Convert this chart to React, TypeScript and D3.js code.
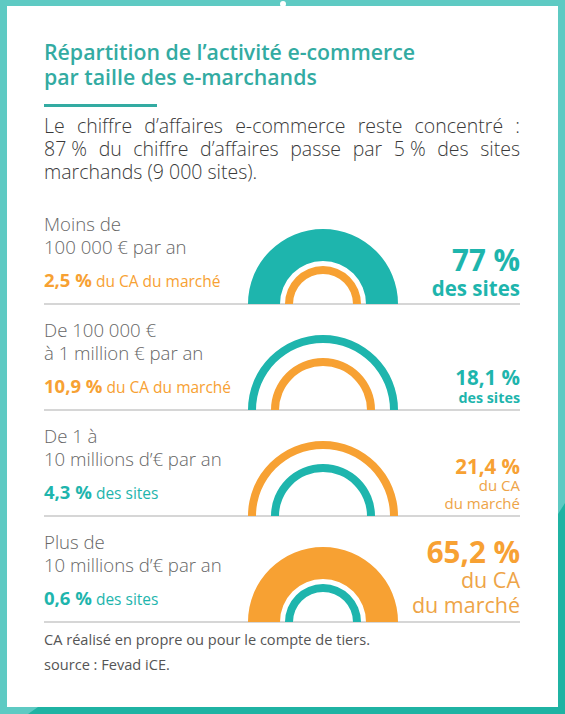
import * as d3 from "d3";
import { useMemo } from "react";

const W = 565;
const H = 714;

// data
const bandLines = [
  ["Moins de", "100 000 € par an"],
  ["De 100 000 €", "à 1 million € par an"],
  ["De 1 à", "10 millions d’€ par an"],
  ["Plus de", "10 millions d’€ par an"],
];
const sitesShare = [77, 18.1, 4.3, 0.6];
const revenueShare = [2.5, 10.9, 21.4, 65.2];

const titleLines = ["Répartition de l’activité e-commerce", "par taille des e-marchands"];
const introLines = [
  "Le chiffre d’affaires e-commerce reste concentré :",
  "87\u00A0% du chiffre d’affaires passe par 5\u00A0% des sites",
  "marchands (9 000 sites).",
];
const footLines = ["CA réalisé en propre ou pour le compte de tiers.", "source : Fevad iCE."];

const teal = "#1eb5ad";
const orange = "#f7a133";
const orangeText = "#eea447";
const titleTeal = "#33aba2";
const frameLight = "#5ecac3";
const frameDark = "#1fb3a3";
const FONT = "'Open Sans', 'Noto Sans', sans-serif";

const fr = (v: number) => String(v).replace(".", ",") + " %";

// words of each paragraph line spread from x0 to x1 (last line left aligned)
function useJustify(lines: string[], font: string, x0: number, x1: number) {
  return useMemo(() => {
    const ctx = document.createElement("canvas").getContext("2d")!;
    ctx.font = font;
    return lines.map((line, i) => {
      const words = line.split(" ");
      const widths = words.map((w) => ctx.measureText(w).width);
      const gap =
        i === lines.length - 1
          ? ctx.measureText(" ").width
          : (x1 - x0 - d3.sum(widths)) / (words.length - 1);
      let x = x0;
      return words.map((w, j) => {
        const p = { w, x };
        x += widths[j] + gap;
        return p;
      });
    });
  }, [lines, font, x0, x1]);
}

export default function App() {
  const left = 44;
  const right = 520;
  const cx = 323;

  const y = d3.scaleBand<number>().domain(d3.range(bandLines.length)).range([198, 622]);
  // thick band when the share is a majority, thin ring otherwise
  const thickness = d3.scaleThreshold<number, number>().domain([50]).range([8, 32]);
  const innerOuter = d3.scaleThreshold<number, number>().domain([50]).range([52, 38]);
  const bigSize = d3.scaleThreshold<number, number>().domain([50]).range([20.5, 29.5]);
  const R = 75;
  const arc = d3.arc<any>().startAngle(-Math.PI / 2).endAngle(Math.PI / 2);

  const intro = useJustify(introLines, `300 19.5px ${FONT}`, left, right);

  return (
    <svg
      width={W}
      height={H}
      style={{ position: "absolute", left: 0, top: 0, display: "block" }}
      fontFamily={FONT}
    >
      {/* frame */}
      <rect width={W} height={H} fill={frameLight} />
      <polygon points="28,714 48,700 553,700 553,522 565,503 565,714" fill={frameDark} />
      <rect x={7} y={6} width={551} height={701} fill="#fff" />
      <circle cx={283} cy={4} r={3} fill="#fff" />

      {/* title */}
      {titleLines.map((t, i) => (
        <text key={i} x={left} y={60 + i * 24.5} fontSize={21.3} fontWeight={600} fill={titleTeal}>
          {t}
        </text>
      ))}
      <rect x={left} y={104} width={113} height={3} fill={titleTeal} />

      {intro.map((words, i) => (
        <text key={i} y={132.5 + i * 23} fontSize={19.5} fontWeight={300} fill="#3a3a3a">
          {words.map((p, j) => (
            <tspan key={j} x={p.x}>
              {p.w}
            </tspan>
          ))}
        </text>
      ))}

      {bandLines.map((lines, i) => {
        const top = y(i)!;
        const base = top + y.bandwidth();
        const s = sitesShare[i];
        const c = revenueShare[i];
        const sitesLead = s > c;
        const lead = sitesLead ? s : c;
        const other = sitesLead ? c : s;
        const leadColor = sitesLead ? teal : orange;
        const otherColor = sitesLead ? orange : teal;
        const th = thickness(lead);
        const io = innerOuter(lead);
        const big = lead > 50;
        return (
          <g key={i}>
            <line x1={left} x2={right} y1={base} y2={base} stroke="#c9c9c9" strokeWidth={1.3} />
            <path
              transform={`translate(${cx},${base})`}
              d={arc({ innerRadius: R - th, outerRadius: R })!}
              fill={leadColor}
            />
            <path
              transform={`translate(${cx},${base})`}
              d={arc({ innerRadius: io - 8, outerRadius: io })!}
              fill={otherColor}
            />

            {/* left labels */}
            {lines.map((l, k) => (
              <text key={k} x={left} y={top + 33 + k * 22.5} fontSize={18.6} fontWeight={300} fill="#666">
                {l}
              </text>
            ))}
            <text x={left} y={top + 89} fill={sitesLead ? orange : teal}>
              <tspan fontSize={18.5} fontWeight={700}>
                {fr(other)}
              </tspan>
              <tspan fontSize={15.5} fontWeight={400}>
                {sitesLead ? " du CA du marché" : " des sites"}
              </tspan>
            </text>

            {/* right labels */}
            {sitesLead ? (
              <text textAnchor="end" fill={teal} fontWeight={700}>
                <tspan x={right} y={top + (big ? 73 : 81)} fontSize={bigSize(lead)}>
                  {fr(lead)}
                </tspan>
                <tspan x={right} y={top + (big ? 97.5 : 98.5)} fontSize={big ? 20.5 : 14.3}>
                  des sites
                </tspan>
              </text>
            ) : (
              <text textAnchor="end" fill={orangeText}>
                <tspan x={right} y={top + (big ? 47 : 63.5)} fontSize={bigSize(lead)} fontWeight={700} fill={orange}>
                  {fr(lead)}
                </tspan>
                <tspan x={right} y={top + (big ? 71.5 : 81)} fontSize={big ? 21.5 : 15}>
                  du CA
                </tspan>
                <tspan x={right} y={top + (big ? 97 : 99.3)} fontSize={big ? 21.5 : 15}>
                  du marché
                </tspan>
              </text>
            )}
          </g>
        );
      })}

      {footLines.map((t, i) => (
        <text key={i} x={left} y={645 + i * 25} fontSize={14.6} fill="#555">
          {t}
        </text>
      ))}
    </svg>
  );
}
